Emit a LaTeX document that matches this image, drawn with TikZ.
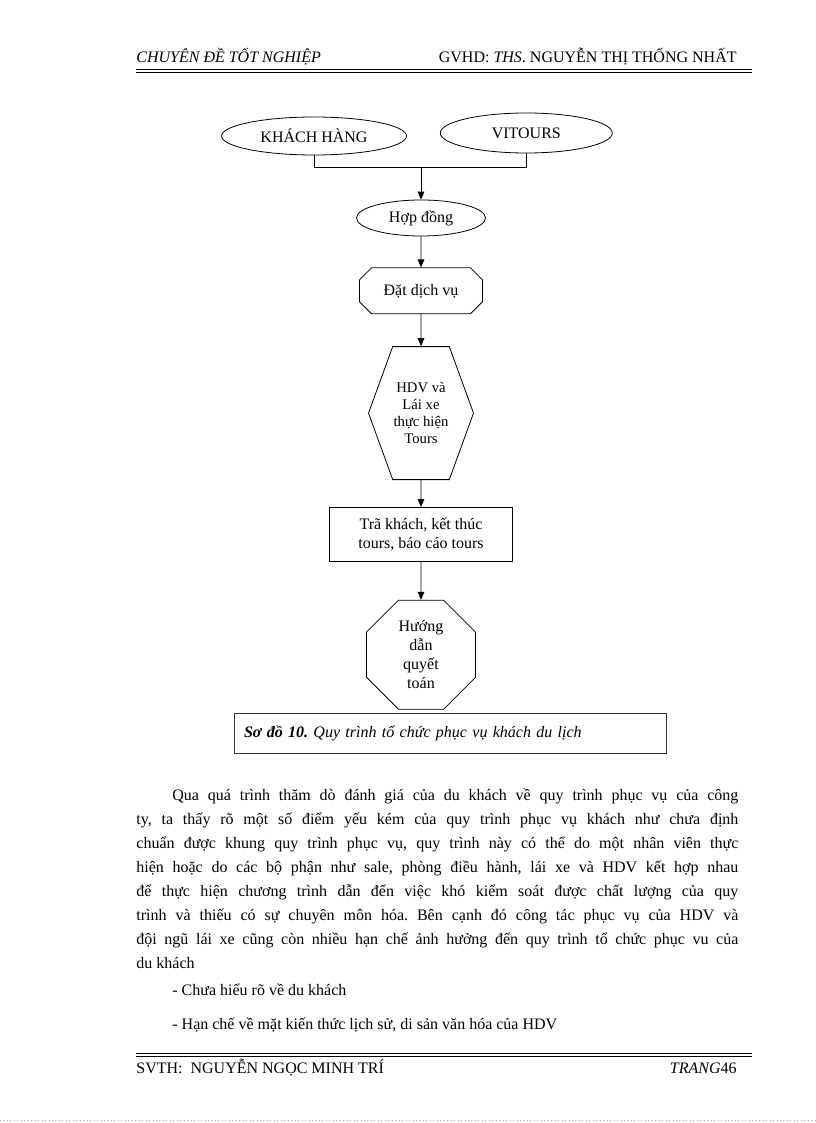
\documentclass[tikz,border=0pt]{standalone}
\usepackage{fontspec}
\setmainfont{Liberation Serif}
\usetikzlibrary{arrows.meta,positioning,shapes.geometric,shapes.misc,shapes.symbols}

\frenchspacing
\newcommand{\bodyline}[1]{\makebox[451.5pt][s]{#1}}

\begin{document}
\begin{tikzpicture}[x=0.75pt,y=-0.75pt,>={Triangle[length=6pt,width=5pt]},
	line width=0.6pt,font=\fontsize{12}{14.25}\selectfont,
	oval/.style={shape=ellipse,draw,inner sep=0pt},
	cutbox/.style={shape=chamfered rectangle,draw,chamfered rectangle xsep=6pt,
		minimum width=92.25pt,minimum height=34.5pt},
	hexbox/.style={shape=signal,draw,signal to=west and east,signal pointer angle=140,
		inner xsep=0pt,minimum width=78.75pt,minimum height=99.75pt,align=center,
		font=\fontsize{11}{12.75}\selectfont},
	plainbox/.style={shape=rectangle,draw,minimum width=137.25pt,minimum height=40.5pt,align=center},
	octbox/.style={shape=regular polygon,regular polygon sides=8,draw,minimum size=88.5pt,
		inner sep=0pt,align=center},
	txt/.style={anchor=base west,inner sep=0pt}]

	\useasboundingbox[fill=white] (0,0) rectangle (816,1123);

	% header
	\node (headl) [anchor=base west,inner sep=0pt] at (136,63) {\textit{CHUYÊN ĐỀ TỐT NGHIỆP}};
	\node (headr) [anchor=base east,inner sep=0pt] at (737,63) {GVHD: \textit{THS}. NGUYỄN THỊ THỐNG NHẤT};
	\draw[line width=0.5pt] (136,69) -- (752,69);
	\draw[line width=1.4pt] (136,72.5) -- (752,72.5);

	% diagram
	\node (khach) [oval,minimum width=138.75pt,minimum height=28.5pt] at (314,136) {KHÁCH HÀNG};
	\node (vitours) [oval,minimum width=129pt,minimum height=30pt] [right=24.75pt of khach,yshift=2.25pt] {VITOURS};
	\node (hopdong) [oval,minimum width=96.75pt,minimum height=27pt] at (421,218) {Hợp đồng};
	\coordinate[above=24pt of hopdong] (join);
	\node (datdv) [cutbox] [below=23.25pt of hopdong] {Đặt dịch vụ};
	\node (hdv) [hexbox] [below=24pt of datdv] {HDV và\\Lái xe\\thực hiện\\Tours};
	\node (trakhach) [plainbox] [below=20.25pt of hdv] {Trã khách, kết thúc\\tours, báo cáo tours};
	\node (quyettoan) [octbox] [below=28.5pt of trakhach] {Hướng\\dẫn\\quyết\\toán};

	\draw (khach.south) |- (join) -| (vitours.south);
	\draw[->] (join) -- (hopdong);
	\draw[->] (hopdong) -- (datdv);
	\draw[->] (datdv) -- (hdv);
	\draw[->] (hdv) -- (trakhach);
	\draw[->] (trakhach) -- (quyettoan);

	% caption
	\node (caption) [draw=black!80,text width=309pt,inner xsep=7.5pt,minimum height=30pt] at (450,733)
		{\textbf{\textit{Sơ đồ 10.}} \textit{Quy trình tổ chức phục vụ khách du lịch}};

	% body text
	\node (l1) [txt] at (172,800) {\makebox[424.5pt][s]{Qua quá trình thăm dò đánh giá của du khách về quy trình phục vụ của công}};
	\node (l2) [txt] at (136,824) {\bodyline{ty,  ta thấy rõ một số điểm yếu kém của quy trình phục vụ  khách như chưa định}};
	\node (l3) [txt] at (136,848) {\bodyline{chuẩn được khung  quy trình phục vụ, quy trình này có thể do một nhân viên thực}};
	\node (l4) [txt] at (136,872) {\bodyline{hiện hoặc do các bộ phận như sale, phòng điều hành, lái xe và HDV kết hợp nhau}};
	\node (l5) [txt] at (136,896) {\bodyline{để thực hiện chương trình dẫn đến việc khó kiểm soát được chất lượng của quy}};
	\node (l6) [txt] at (136,920) {\bodyline{trình và thiếu có sự chuyên môn hóa. Bên cạnh đó công tác phục vụ của HDV và}};
	\node (l7) [txt] at (136,944) {\bodyline{đội ngũ lái xe cũng còn nhiều hạn chế ảnh hưởng đến quy trình tổ chức phục vu của}};
	\node (l8) [txt] at (136,968) {du khách};
	\node (item1) [txt] at (172,995) {- Chưa hiểu rõ về du khách};
	\node (item2) [txt] at (172,1029) {- Hạn chế về mặt kiến thức lịch sử, di sản văn hóa của HDV};

	% footer
	\draw[line width=0.5pt] (136,1053) -- (752,1053);
	\draw[line width=0.5pt] (136,1056) -- (752,1056);
	\node (footl) [anchor=base west,inner sep=0pt] at (136,1073) {SVTH:\ \ NGUYỄN NGỌC MINH TRÍ};
	\node (footr) [anchor=base east,inner sep=0pt] at (737,1073) {\textit{TRANG}46};
	\draw[black!35,dotted] (0,1120) -- (816,1120);
\end{tikzpicture}
\end{document}
